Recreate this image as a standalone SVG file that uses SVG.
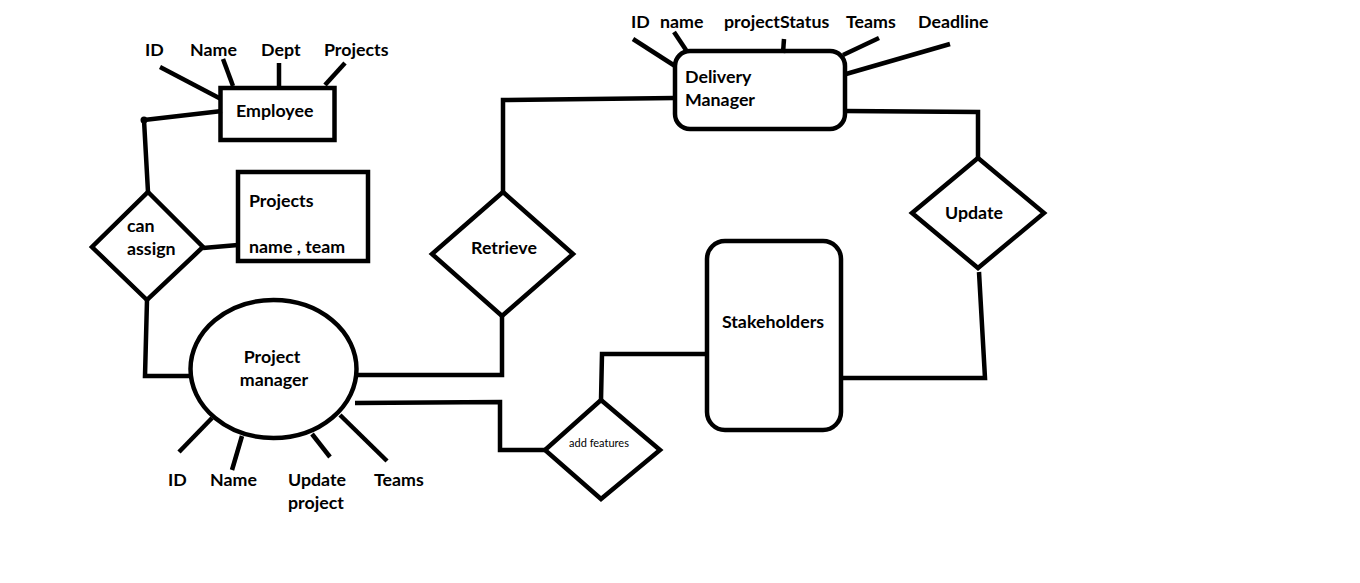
<svg xmlns="http://www.w3.org/2000/svg" width="1360" height="583" viewBox="0 0 1360 583">
<style>
.s{fill:none;stroke:#000;stroke-width:4.5;stroke-linejoin:miter}
.l{fill:none;stroke:#000;stroke-width:4.5}
.t{font-family:Lato,"Open Sans",sans-serif;font-weight:bold;font-size:17.8px;fill:#000}
.sm{font-family:Lato,"Open Sans",sans-serif;font-size:11px;fill:#000}
</style>
<rect width="1360" height="583" fill="#fff"/>
<g id="connectors">
<polyline class="l" points="222,111 144,120 148,192"/>
<circle cx="144" cy="120" r="3.5" fill="#000"/>
<polyline class="l" points="203,248 238,245"/>
<polyline class="l" points="147,300 145,376 191,376"/>
<polyline class="l" points="357,375 502,375 502,316"/>
<polyline class="l" points="355,403 500,402 500,450 545,450"/>
<polyline class="l" points="675,98 503,100 503,192"/>
<polyline class="l" points="845,111 978,112 978,158"/>
<polyline class="l" points="841,378 985,378 979,272"/>
<polyline class="l" points="707,354 602,354 601,400"/>
</g>
<g id="employee">
<rect class="s" x="220.5" y="88" width="114" height="52"/>
<text class="t" x="236" y="117">Employee</text>
<line class="l" x1="160" y1="67" x2="221" y2="99"/>
<line class="l" x1="223" y1="59" x2="233" y2="86"/>
<line class="l" x1="279" y1="63" x2="279" y2="86"/>
<line class="l" x1="345" y1="63" x2="325" y2="85"/>
<text class="t" x="145" y="56">ID</text>
<text class="t" x="190" y="56">Name</text>
<text class="t" x="261" y="56">Dept</text>
<text class="t" x="324" y="56">Projects</text>
</g>
<g id="can-assign">
<polygon class="s" points="148,192 203,247 147,300 92,247"/>
<text class="t" x="127" y="232">can</text>
<text class="t" x="127" y="255">assign</text>
</g>
<g id="projects">
<rect class="s" x="238" y="172" width="130" height="89"/>
<text class="t" x="249" y="207">Projects</text>
<text class="t" x="249" y="253">name , team</text>
</g>
<g id="project-manager">
<ellipse class="s" cx="273.5" cy="369" rx="83" ry="69"/>
<text class="t" x="272" y="363" text-anchor="middle">Project</text>
<text class="t" x="274" y="386" text-anchor="middle">manager</text>
<line class="l" x1="212" y1="418" x2="179" y2="452"/>
<line class="l" x1="242" y1="436" x2="232" y2="470"/>
<line class="l" x1="312" y1="434" x2="330" y2="457"/>
<line class="l" x1="340" y1="415" x2="387" y2="461"/>
<text class="t" x="168" y="486">ID</text>
<text class="t" x="210" y="486">Name</text>
<text class="t" x="288" y="486">Update</text>
<text class="t" x="288" y="509">project</text>
<text class="t" x="374" y="486">Teams</text>
</g>
<g id="retrieve">
<polygon class="s" points="503,192 573,254 502,316 432,254"/>
<text class="t" x="504" y="254" text-anchor="middle">Retrieve</text>
</g>
<g id="delivery-manager">
<rect class="s" x="675" y="51" width="170" height="78" rx="15"/>
<text class="t" x="685" y="83">Delivery</text>
<text class="t" x="685" y="106">Manager</text>
<line class="l" x1="633" y1="39" x2="675" y2="66"/>
<line class="l" x1="674" y1="32" x2="686" y2="50"/>
<line class="l" x1="784" y1="39" x2="783" y2="53"/>
<line class="l" x1="879" y1="38" x2="843" y2="55"/>
<line class="l" x1="950" y1="44" x2="846" y2="74"/>
<text class="t" x="631" y="28">ID</text>
<text class="t" x="660" y="28">name</text>
<text class="t" x="724" y="28">projectStatus</text>
<text class="t" x="846" y="28">Teams</text>
<text class="t" x="918" y="28">Deadline</text>
</g>
<g id="update">
<polygon class="s" points="978,158 1044,213 978,268 912,213"/>
<text class="t" x="974" y="219" text-anchor="middle">Update</text>
</g>
<g id="stakeholders">
<rect class="s" x="707" y="241" width="134" height="189" rx="18"/>
<text class="t" x="773" y="328" text-anchor="middle">Stakeholders</text>
</g>
<g id="add-features">
<polygon class="s" points="601,400 660,450 601,499 545,450"/>
<text class="sm" x="599" y="447" text-anchor="middle">add features</text>
</g>
</svg>
